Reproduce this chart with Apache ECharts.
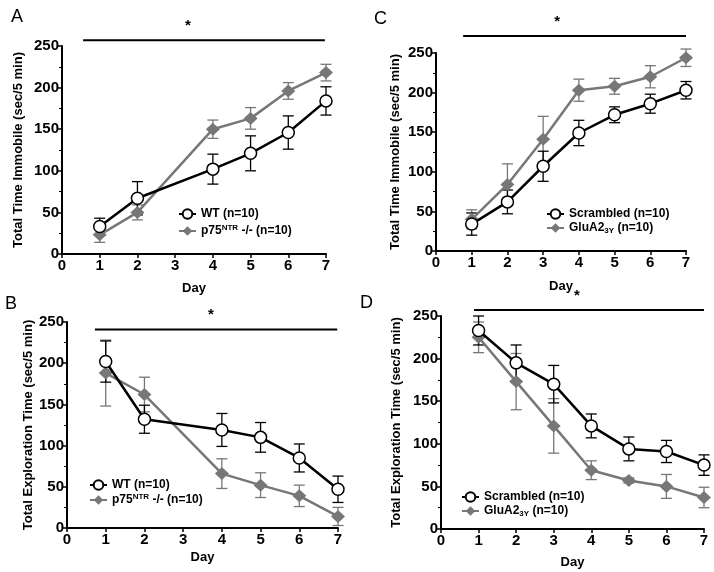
<!DOCTYPE html>
<html><head><meta charset="utf-8">
<script src="https://cdn.jsdelivr.net/npm/echarts@6/dist/echarts.min.js"></script>
<style>html,body{margin:0;padding:0;background:#fff}#main{width:714px;height:572px}</style>
</head><body><div id="main"></div>
<script>
// ---- data ----
const daysAB = [1, 2, 4, 5, 6, 7];
const daysCD = [1, 2, 3, 4, 5, 6, 7];
const xTicks = ['0','1','2','3','4','5','6','7'];
const yTicks = [0, 50, 100, 150, 200, 250];

const A_wt = [33, 67, 102, 121, 146, 184];
const A_wtErr = [10, 20, 18, 21, 20, 17];
const A_ko = [23, 50, 150, 163, 196, 218];
const A_koErr = [9, 9, 11, 13, 10, 10];

const B_wt = [202, 132, 119, 110, 85, 47];
const B_wtErr = [25, 17, 20, 18, 17, 16];
const B_ko = [188, 162, 66, 52, 39, 14];
const B_koErr = [40, 21, 18, 15, 13, 11];

const C_scr = [34, 62, 107, 149, 172, 186, 203];
const C_scrErr = [14, 15, 19, 16, 10, 12, 11];
const C_glu = [40, 84, 141, 203, 208, 220, 244];
const C_gluErr = [12, 26, 29, 14, 10, 14, 11];

const D_scr = [233, 195, 170, 121, 94, 91, 75];
const D_scrErr = [17, 21, 22, 14, 14, 13, 12];
const D_glu = [225, 173, 121, 69, 57, 50, 37];
const D_gluErr = [18, 33, 32, 11, 3, 14, 12];

const panelLetters = ['A', 'B', 'C', 'D'];
const yTitles = ['Total Time Immobile (sec/5 min)', 'Total Exploration Time (sec/5 min)',
                 'Total Time Immobile (sec/5 min)', 'Total Exploration Time (sec/5 min)'];
// significance bars: [xStart, xEnd, yValue, starX]
const sigBars = [[0.56, 6.97, 257, 3.34], [0.72, 6.98, 241, 3.72], [0.76, 7.0, 271.5, 3.39], [0.88, 7.0, 257, 3.62]];
const legendLabels = {
  A_wt: 'WT (n=10)', A_ko: 'p75{sup|NTR} -/- (n=10)',
  B_wt: 'WT (n=10)', B_ko: 'p75{sup|NTR} -/- (n=10)',
  C_scr: 'Scrambled (n=10)', C_glu: 'GluA2{sub|3Y} (n=10)',
  D_scr: 'Scrambled (n=10)', D_glu: 'GluA2{sub|3Y} (n=10)'
};

// ---- layout ----
const FONT = 'Liberation Sans, Arial, sans-serif';
const BLACK = '#000000', GRAY = '#777777';
const grids = [
  {left: 62, top: 46, width: 264, height: 208},
  {left: 67, top: 322, width: 271, height: 206},
  {left: 436, top: 53, width: 250, height: 198},
  {left: 441, top: 316, width: 263, height: 213}
];
const yNameGaps = [37, 32, 34, 38];
const xNameGaps = [28, 23, 29, 27];

const xAxes = grids.map((g, i) => ({
  type: 'value', gridIndex: i, min: 0, max: 7, interval: 1,
  name: 'Day', nameLocation: 'middle', nameGap: xNameGaps[i],
  nameTextStyle: {fontFamily: FONT, fontWeight: 'bold', fontSize: 13, color: '#000'},
  axisLine: {show: true, lineStyle: {color: '#000', width: 2}},
  axisTick: {show: true, length: 4, lineStyle: {color: '#000', width: 1.5}},
  axisLabel: {fontFamily: FONT, fontWeight: 'bold', fontSize: 15, color: '#000', margin: 4,
              formatter: v => xTicks[Math.round(v)]},
  splitLine: {show: false}
}));
const yAxes = grids.map((g, i) => ({
  type: 'value', gridIndex: i, min: 0, max: 250, interval: 50,
  name: yTitles[i], nameLocation: 'middle', nameGap: yNameGaps[i], nameRotate: 90,
  nameTextStyle: {fontFamily: FONT, fontWeight: 'bold', fontSize: 13, color: '#000'},
  axisLine: {show: true, lineStyle: {color: '#000', width: 2}},
  axisTick: {show: true, length: 4, lineStyle: {color: '#000', width: 1.5}},
  minorTick: {show: true, splitNumber: 2, length: 3, lineStyle: {color: '#000', width: 1}},
  axisLabel: {fontFamily: FONT, fontWeight: 'bold', fontSize: 15, color: '#000', margin: 3,
              formatter: v => (yTicks.indexOf(v) >= 0 ? String(v) : '')},
  splitLine: {show: false}
}));

function pairs(xs, ys) { return xs.map((x, i) => [x, ys[i]]); }
function lineSeries(name, gi, xs, ys, isBlack) {
  return {
    name: name, type: 'line', xAxisIndex: gi, yAxisIndex: gi,
    data: pairs(xs, ys),
    symbol: isBlack ? 'circle' : 'diamond',
    symbolSize: isBlack ? 12 : [14, 13],
    lineStyle: {color: isBlack ? BLACK : GRAY, width: 2.5},
    itemStyle: isBlack ? {color: '#fff', borderColor: BLACK, borderWidth: 1.5} : {color: GRAY, borderColor: GRAY, borderWidth: 0},
    z: isBlack ? 4 : 3, animation: false, clip: false
  };
}
function errSeries(gi, xs, ys, es, color) {
  return {
    type: 'custom', xAxisIndex: gi, yAxisIndex: gi, silent: true, animation: false, z: 2,
    data: xs.map((x, i) => [x, ys[i] - es[i], ys[i] + es[i]]),
    renderItem: function (params, api) {
      const lo = api.coord([api.value(0), api.value(1)]);
      const hi = api.coord([api.value(0), api.value(2)]);
      const hw = 5.5;
      const st = {stroke: color, lineWidth: 1.3};
      return {type: 'group', children: [
        {type: 'line', shape: {x1: lo[0], y1: lo[1], x2: hi[0], y2: hi[1]}, style: st},
        {type: 'line', shape: {x1: lo[0] - hw, y1: lo[1], x2: lo[0] + hw, y2: lo[1]}, style: st},
        {type: 'line', shape: {x1: hi[0] - hw, y1: hi[1], x2: hi[0] + hw, y2: hi[1]}, style: st}
      ]};
    }
  };
}

const series = [
  errSeries(0, daysAB, A_ko, A_koErr, GRAY), errSeries(0, daysAB, A_wt, A_wtErr, BLACK),
  lineSeries('A_ko', 0, daysAB, A_ko, false), lineSeries('A_wt', 0, daysAB, A_wt, true),
  errSeries(1, daysAB, B_ko, B_koErr, GRAY), errSeries(1, daysAB, B_wt, B_wtErr, BLACK),
  lineSeries('B_ko', 1, daysAB, B_ko, false), lineSeries('B_wt', 1, daysAB, B_wt, true),
  errSeries(2, daysCD, C_glu, C_gluErr, GRAY), errSeries(2, daysCD, C_scr, C_scrErr, BLACK),
  lineSeries('C_glu', 2, daysCD, C_glu, false), lineSeries('C_scr', 2, daysCD, C_scr, true),
  errSeries(3, daysCD, D_glu, D_gluErr, GRAY), errSeries(3, daysCD, D_scr, D_scrErr, BLACK),
  lineSeries('D_glu', 3, daysCD, D_glu, false), lineSeries('D_scr', 3, daysCD, D_scr, true)
];

const legendText = {
  fontFamily: FONT, fontWeight: 'bold', fontSize: 12, color: '#000', lineHeight: 14,
  rich: {
    sup: {fontFamily: FONT, fontWeight: 'bold', fontSize: 8, color: '#000', verticalAlign: 'top', lineHeight: 14, padding: [0, 0, 5, 0]},
    sub: {fontFamily: FONT, fontWeight: 'bold', fontSize: 8, color: '#000', verticalAlign: 'bottom', lineHeight: 14, padding: [5, 0, 0, 0]}
  }
};
function mkLegend(names, left, top, gap) {
  return {
    data: names, left: left, top: top, orient: 'vertical', itemGap: gap,
    itemWidth: 17, itemHeight: 12, padding: 0, selectedMode: false, itemSymbolKeepAspect: true,
    formatter: n => legendLabels[n], textStyle: legendText
  };
}
const legends = [
  mkLegend(['A_wt', 'A_ko'], 178, 207, 3),
  mkLegend(['B_wt', 'B_ko'], 89, 478, 1),
  mkLegend(['C_scr', 'C_glu'], 546, 207, 0),
  mkLegend(['D_scr', 'D_glu'], 461, 490, 0)
];

const chart = echarts.init(document.getElementById('main'), null, {renderer: 'canvas'});
chart.setOption({
  animation: false,
  backgroundColor: '#fff',
  grid: grids,
  xAxis: xAxes,
  yAxis: yAxes,
  legend: legends,
  series: series
});

// annotations: panel letters, significance bars & stars positioned via the library's scales
const letterPos = [[11, 8], [5, 295], [374, 10], [360, 294]];
const graphics = [];
panelLetters.forEach((L, i) => {
  graphics.push({type: 'text', left: letterPos[i][0], top: letterPos[i][1], silent: true,
    style: {text: L, fontFamily: FONT, fontSize: 18, fill: '#000'}});
});
sigBars.forEach((s, i) => {
  const p0 = chart.convertToPixel({gridIndex: i}, [s[0], s[2]]);
  const p1 = chart.convertToPixel({gridIndex: i}, [s[1], s[2]]);
  const ps = chart.convertToPixel({gridIndex: i}, [s[3], s[2]]);
  graphics.push({type: 'line', silent: true, shape: {x1: p0[0], y1: p0[1], x2: p1[0], y2: p1[1]},
    style: {stroke: '#000', lineWidth: 2}});
  graphics.push({type: 'text', silent: true, x: ps[0], y: p0[1] - 7,
    style: {text: '*', fontFamily: FONT, fontWeight: 'bold', fontSize: 15, fill: '#000', align: 'center', verticalAlign: 'bottom'}});
});
chart.setOption({graphic: graphics});
</script></body></html>
